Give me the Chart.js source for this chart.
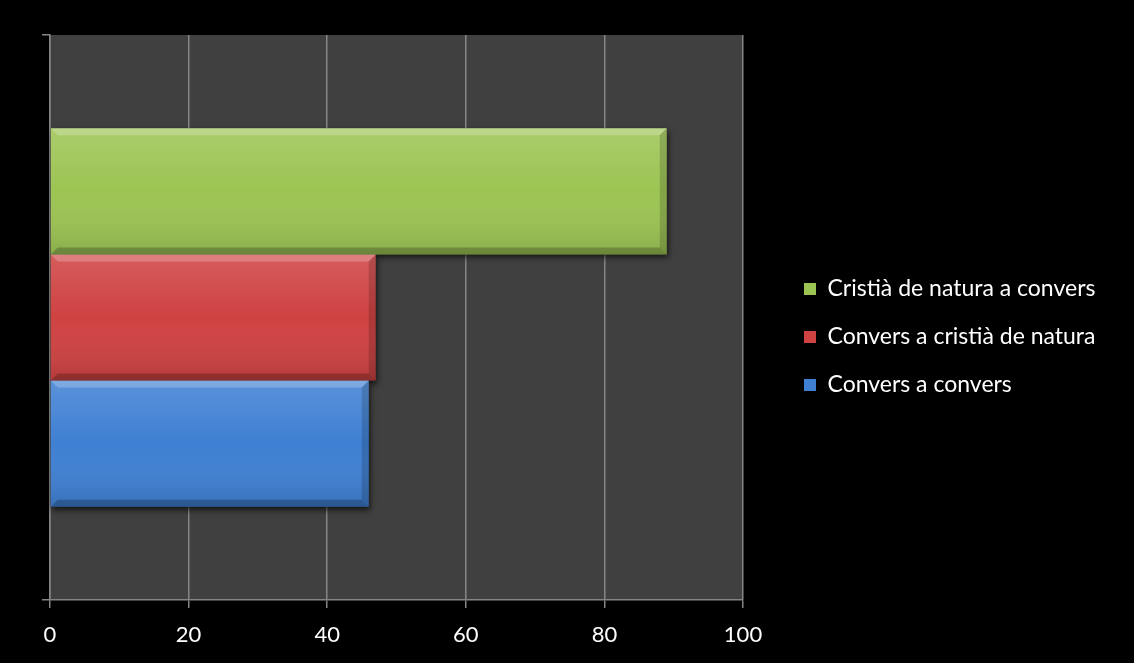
<!DOCTYPE html>
<html>
<head>
<meta charset="utf-8">
<script src="https://cdn.jsdelivr.net/npm/chart.js@4"></script>
<style>
  html, body { margin: 0; padding: 0; background: #000; }
  #wrap { width: 1134px; height: 663px; position: relative; }
</style>
</head>
<body>
<div id="wrap"><canvas id="chart"></canvas></div>
<script>
// Dades
const categories = [''];
const seriesNames = ['Cristià de natura a convers', 'Convers a cristià de natura', 'Convers a convers'];
const cristiaAConvers = [89];
const conversACristia = [47];
const conversAConvers = [46];
const xTicks = [0, 20, 40, 60, 80, 100];

const colors = ['#9cc453', '#cf4242', '#3f80d3'];

// fons negre + àrea de dibuix gris fosc
const bgPlugin = {
    id: 'bg',
    beforeDraw(chart) {
        const { ctx, chartArea: a } = chart;
        ctx.save();
        ctx.fillStyle = '#000';
        ctx.fillRect(0, 0, chart.width, chart.height);
        ctx.fillStyle = '#404040';
        ctx.fillRect(a.left, a.top, a.right - a.left, a.bottom - a.top);
        ctx.restore();
    }
};

// amplada fixa de la llegenda i desplaçament
const legendPlugin = {
    id: 'legendFix',
    beforeLayout(chart) {
        const lg = chart.legend;
        if (lg && !lg._patched) {
            const fit = lg.fit;
            lg.fit = function () { fit.call(this); this.width = 391; };
            lg._patched = true;
        }
    },
    afterLayout(chart) {
        if (!chart.legend) return;
        chart.legend.left += 36;
        chart.legend.top -= 12;
        chart.legend.bottom -= 12;
    }
};

// ombra, ombrejat i bisell de les barres
function barBox(bar) {
    return {
        left: Math.min(bar.base, bar.x), right: Math.max(bar.base, bar.x),
        top: bar.y - bar.height / 2, bottom: bar.y + bar.height / 2
    };
}

const bevelPlugin = {
    id: 'bevel',
    beforeDatasetsDraw(chart) {
        const ctx = chart.ctx;
        ctx.save();
        ctx.shadowColor = 'rgba(0,0,0,0.7)';
        ctx.shadowBlur = 6;
        ctx.shadowOffsetX = 1;
        ctx.shadowOffsetY = 3;
        ctx.fillStyle = '#222';
        chart.data.datasets.forEach((ds, i) => {
            chart.getDatasetMeta(i).data.forEach(bar => {
                const r = barBox(bar);
                ctx.fillRect(r.left, r.top, r.right - r.left, r.bottom - r.top);
            });
        });
        ctx.restore();
    },
    afterDatasetsDraw(chart) {
        const ctx = chart.ctx;
        const b = 7;
        chart.data.datasets.forEach((ds, i) => {
            chart.getDatasetMeta(i).data.forEach(bar => {
                const { left, right, top, bottom } = barBox(bar);
                ctx.save();
                const g = ctx.createLinearGradient(0, top, 0, bottom);
                g.addColorStop(0, 'rgba(255,255,255,0.14)');
                g.addColorStop(0.5, 'rgba(255,255,255,0.0)');
                g.addColorStop(1, 'rgba(0,0,0,0.12)');
                ctx.fillStyle = g;
                ctx.fillRect(left, top, right - left, bottom - top);
                // bisell superior
                ctx.fillStyle = 'rgba(255,255,255,0.22)';
                ctx.beginPath();
                ctx.moveTo(left, top); ctx.lineTo(right, top);
                ctx.lineTo(right - b, top + b); ctx.lineTo(left + b, top + b);
                ctx.closePath(); ctx.fill();
                // bisell dret
                ctx.fillStyle = 'rgba(0,0,0,0.16)';
                ctx.beginPath();
                ctx.moveTo(right, top); ctx.lineTo(right, bottom);
                ctx.lineTo(right - b, bottom - b); ctx.lineTo(right - b, top + b);
                ctx.closePath(); ctx.fill();
                // bisell inferior
                ctx.fillStyle = 'rgba(0,0,0,0.22)';
                ctx.beginPath();
                ctx.moveTo(left, bottom); ctx.lineTo(right, bottom);
                ctx.lineTo(right - b, bottom - b); ctx.lineTo(left + b, bottom - b);
                ctx.closePath(); ctx.fill();
                ctx.restore();
            });
        });
    }
};

const ctx = document.getElementById('chart').getContext('2d');
const chart = new Chart(ctx, {
    type: 'bar',
    data: {
        labels: categories,
        datasets: [
            { label: seriesNames[0], data: cristiaAConvers, backgroundColor: colors[0] },
            { label: seriesNames[1], data: conversACristia, backgroundColor: colors[1] },
            { label: seriesNames[2], data: conversAConvers, backgroundColor: colors[2] }
        ]
    },
    options: {
        indexAxis: 'y',
        responsive: true,
        maintainAspectRatio: false,
        animation: false,
        categoryPercentage: 0.67,
        barPercentage: 1.0,
        layout: { padding: { left: 42, top: 35, bottom: 0, right: 0 } },
        plugins: {
            tooltip: { enabled: false },
            legend: {
                position: 'right',
                labels: {
                    color: '#fff',
                    font: { family: 'Lato', size: 23 },
                    boxWidth: 12,
                    boxHeight: 12,
                    padding: 25
                }
            }
        },
        scales: {
            x: {
                min: 0, max: 100,
                afterBuildTicks(scale) { scale.ticks = xTicks.map(v => ({ value: v })); },
                afterFit(scale) { scale.height = 63; },
                grid: { color: '#858585', lineWidth: 1.5, tickLength: 8 },
                border: { color: '#858585', width: 1.5 },
                ticks: { color: '#fff', font: { family: 'Lato', size: 22 }, padding: 14 }
            },
            y: {
                grid: { color: '#858585', lineWidth: 1.5, tickLength: 8, drawOnChartArea: false },
                border: { color: '#858585', width: 1.5 },
                ticks: { display: false }
            }
        }
    },
    plugins: [bgPlugin, legendPlugin, bevelPlugin]
});
</script>
</body>
</html>
